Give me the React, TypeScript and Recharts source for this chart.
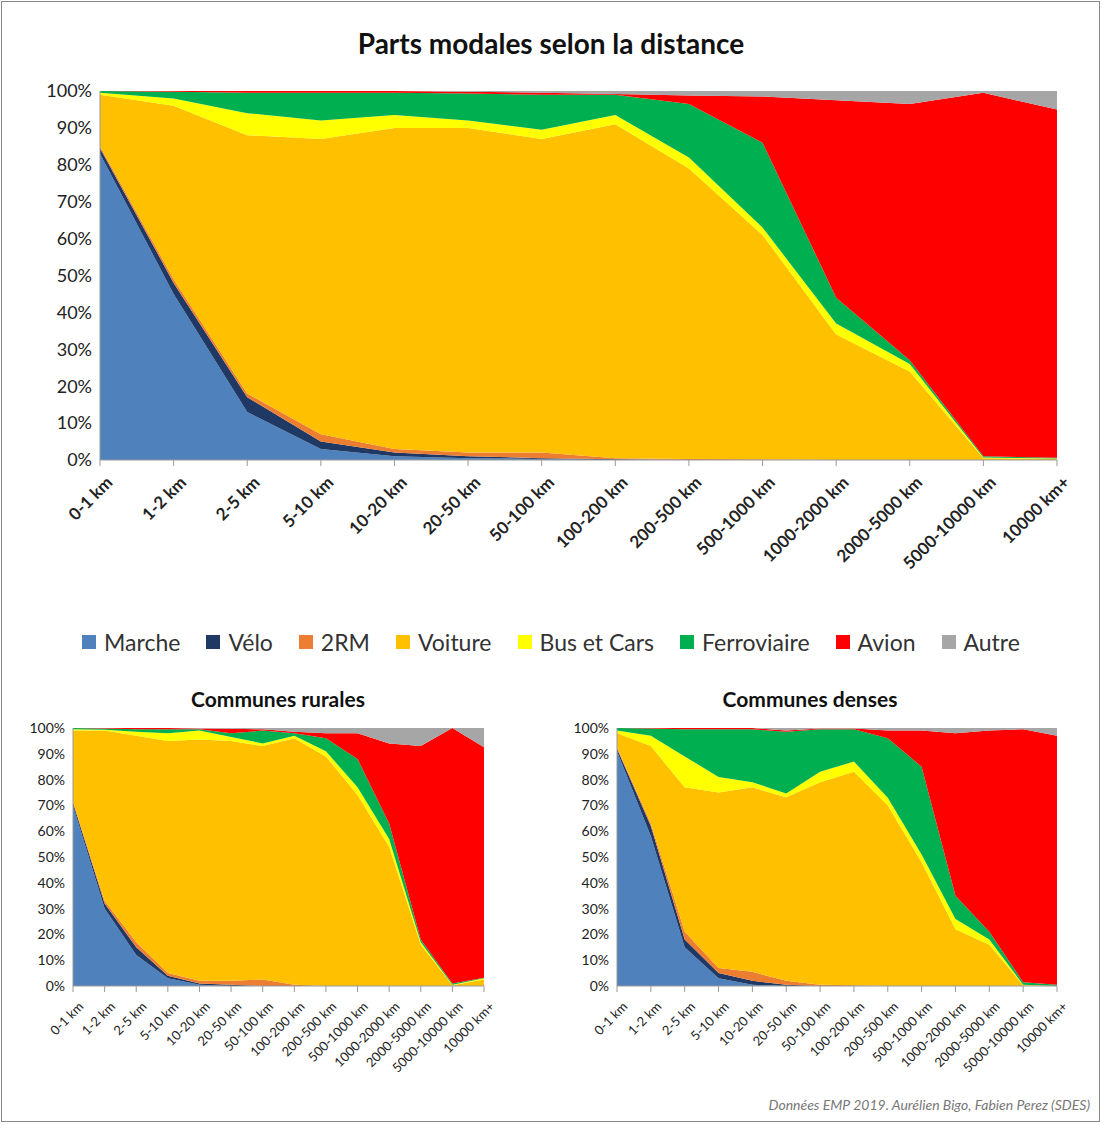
import { AreaChart, Area, XAxis, YAxis } from 'recharts'

const categories = ['0-1 km', '1-2 km', '2-5 km', '5-10 km', '10-20 km', '20-50 km', '50-100 km', '100-200 km', '200-500 km', '500-1000 km', '1000-2000 km', '2000-5000 km', '5000-10000 km', '10000 km+']

const modes = ['Marche', 'Vélo', '2RM', 'Voiture', 'Bus et Cars', 'Ferroviaire', 'Avion', 'Autre']
const colors = ['#4f81bd', '#1f3864', '#ed7d31', '#ffc000', '#ffff00', '#00b050', '#ff0000', '#a6a6a6']

// Shares (%) per mode, all distances
const allMarche = [83, 45, 13, 3, 1, 0.5, 0.3, 0, 0, 0, 0, 0, 0, 0]
const allVelo = [1.5, 3, 4, 2, 1, 0.5, 0.2, 0.2, 0, 0, 0, 0, 0, 0]
const all2RM = [0.5, 1, 1, 2, 1, 1, 1.5, 0.3, 0.3, 0.2, 0, 0, 0, 0]
const allVoiture = [14, 47, 70, 80, 87, 88, 85, 90.5, 78.7, 60.8, 34, 24, 0.5, 0.3]
const allBus = [0.5, 2, 6, 5, 3.5, 2, 2.5, 2.5, 3, 2, 3, 2, 0.2, 0.1]
const allFerro = [0.5, 1.8, 5.5, 7.5, 6, 7.3, 9.5, 5.5, 14.5, 23, 7, 1, 0.3, 0.2]
const allAvion = [0, 0.2, 0.5, 0.5, 0.5, 0.5, 0.5, 0.2, 2.3, 12.5, 53.5, 69.5, 98.5, 94.4]
const allAutre = [0, 0, 0, 0, 0, 0.2, 0.5, 0.8, 1.2, 1.5, 2.5, 3.5, 0.5, 5]

// Communes rurales
const rurMarche = [70, 30, 12, 3, 0.5, 0, 0, 0, 0, 0, 0, 0, 0, 0]
const rurVelo = [1, 2, 3, 1, 0.5, 0.5, 0, 0, 0, 0, 0, 0, 0, 0]
const rur2RM = [0.5, 1, 2, 1, 1, 1.5, 2.5, 0.5, 0, 0, 0, 0, 0, 0]
const rurVoiture = [27.5, 66, 80, 90, 93.5, 93, 90.5, 95.5, 89, 74, 54, 16, 0.3, 2.5]
const rurBus = [0.5, 0.3, 1.5, 3, 3.5, 1.5, 1, 1, 2, 3, 3, 1, 0.2, 0.5]
const rurFerro = [0.5, 0.5, 1, 1.5, 0.5, 1.5, 5, 1, 5, 11, 6, 1, 0.5, 0.2]
const rurAvion = [0, 0.2, 0.5, 0.5, 0.3, 1.7, 0.5, 0.5, 2, 10, 31, 75, 99, 89.3]
const rurAutre = [0, 0, 0, 0, 0.2, 0.3, 0.5, 1.5, 2, 2, 6, 7, 0, 7.5]

// Communes denses
const denMarche = [91, 58, 15, 3, 0.5, 0, 0, 0, 0, 0, 0, 0, 0, 0]
const denVelo = [1, 4, 3, 2, 1.5, 0.5, 0, 0, 0, 0, 0, 0, 0, 0]
const den2RM = [0.5, 1, 3, 2, 3.5, 1.5, 0.5, 0.3, 0, 0, 0, 0, 0, 0]
const denVoiture = [5.5, 30, 56, 68, 71.5, 71.5, 78.5, 82.7, 70, 48, 22, 16, 0.3, 0]
const denBus = [1, 4, 12, 6, 2, 1.5, 4, 4, 3, 3, 4, 2, 0.2, 0]
const denFerro = [1, 2.8, 10.5, 18.5, 20.5, 24, 16.5, 12.5, 23, 34, 9, 3, 1, 0.5]
const denAvion = [0, 0.2, 0.5, 0.5, 0.5, 0.5, 0.3, 0.3, 3, 14, 63, 78, 98, 96.5]
const denAutre = [0, 0, 0, 0, 0, 1, 0.2, 0.2, 1, 1, 2, 1, 0.5, 3]

const yTicks = [0, 0.1, 0.2, 0.3, 0.4, 0.5, 0.6, 0.7, 0.8, 0.9, 1]

const FONT = 'Lato, "Open Sans", sans-serif'

function build(series: number[][]) {
  return categories.map((c, i) => {
    const row: any = { cat: c }
    modes.forEach((m, k) => { row[m] = series[k][i] })
    return row
  })
}

const allData = build([allMarche, allVelo, all2RM, allVoiture, allBus, allFerro, allAvion, allAutre])
const rurData = build([rurMarche, rurVelo, rur2RM, rurVoiture, rurBus, rurFerro, rurAvion, rurAutre])
const denData = build([denMarche, denVelo, den2RM, denVoiture, denBus, denFerro, denAvion, denAutre])

function Tick({ x, y, payload, size, bold }: any) {
  return (
    <text x={x + 4} y={y + 6} transform={`rotate(-45 ${x + 4} ${y + 6})`} textAnchor="end"
      dominantBaseline="hanging" fontSize={size} fontWeight={bold ? 700 : 400} fill="#222" fontFamily={FONT}>
      {payload.value}
    </text>
  )
}

function ModalChart({ data, width, height, margin, yWidth, xHeight, tickSize, ySize, bold }: any) {
  return (
    <AreaChart width={width} height={height} data={data} stackOffset="expand" margin={margin}>
      <XAxis dataKey="cat" interval={0} height={xHeight} stroke="#999" tickLine={{ stroke: '#999' }}
        tick={<Tick size={tickSize} bold={bold} />} />
      <YAxis width={yWidth} ticks={yTicks} domain={[0, 1]} stroke="#999" tickLine={false}
        tickFormatter={(v: number) => `${Math.round(v * 100)}%`}
        tick={{ fontSize: ySize, fill: '#222', fontFamily: FONT }} />
      {modes.map((m, k) => (
        <Area key={m} type="linear" dataKey={m} stackId="a" stroke="none" fill={colors[k]}
          fillOpacity={1} isAnimationActive={false} />
      ))}
    </AreaChart>
  )
}

export default function App() {
  return (
    <div style={{ position: 'absolute', left: 0, top: 0, width: 1102, height: 1125, background: '#fff', fontFamily: FONT }}>
      <div style={{ position: 'absolute', left: 1, top: 1, width: 1097, height: 1119, border: '1px solid #888' }} />
      <div style={{ position: 'absolute', top: 26, width: 1102, textAlign: 'center', fontSize: 28, fontWeight: 700, color: '#111' }}>
        Parts modales selon la distance
      </div>
      <div style={{ position: 'absolute', left: 0, top: 80 }}>
        <ModalChart data={allData} width={1100} height={520} margin={{ top: 11, right: 43, left: 40, bottom: 0 }}
          yWidth={60} xHeight={140} tickSize={17} ySize={18} bold />
      </div>
      <div style={{ position: 'absolute', top: 628, left: 0, width: 1102, display: 'flex', justifyContent: 'center', gap: 26, fontSize: 23, color: '#333' }}>
        {modes.map((m, k) => (
          <span key={m} style={{ display: 'flex', alignItems: 'center' }}>
            <span style={{ width: 14, height: 14, background: colors[k], marginRight: 8, display: 'inline-block' }} />
            {m}
          </span>
        ))}
      </div>
      <div style={{ position: 'absolute', top: 686, left: 0, width: 556, textAlign: 'center', fontSize: 21, fontWeight: 700, color: '#111', paddingLeft: 0 }}>
        Communes rurales
      </div>
      <div style={{ position: 'absolute', top: 686, left: 545, width: 530, textAlign: 'center', fontSize: 21, fontWeight: 700, color: '#111' }}>
        Communes denses
      </div>
      <div style={{ position: 'absolute', left: 0, top: 715 }}>
        <ModalChart data={rurData} width={500} height={371} margin={{ top: 13, right: 16, left: 30, bottom: 0 }}
          yWidth={43} xHeight={100} tickSize={13} ySize={14} />
      </div>
      <div style={{ position: 'absolute', left: 545, top: 715 }}>
        <ModalChart data={denData} width={530} height={371} margin={{ top: 13, right: 18, left: 29, bottom: 0 }}
          yWidth={43} xHeight={100} tickSize={13} ySize={14} />
      </div>
      <div style={{ position: 'absolute', right: 12, top: 1096, fontSize: 14, fontStyle: 'italic', color: '#777' }}>
        Données EMP 2019. Aurélien Bigo, Fabien Perez (SDES)
      </div>
    </div>
  )
}
